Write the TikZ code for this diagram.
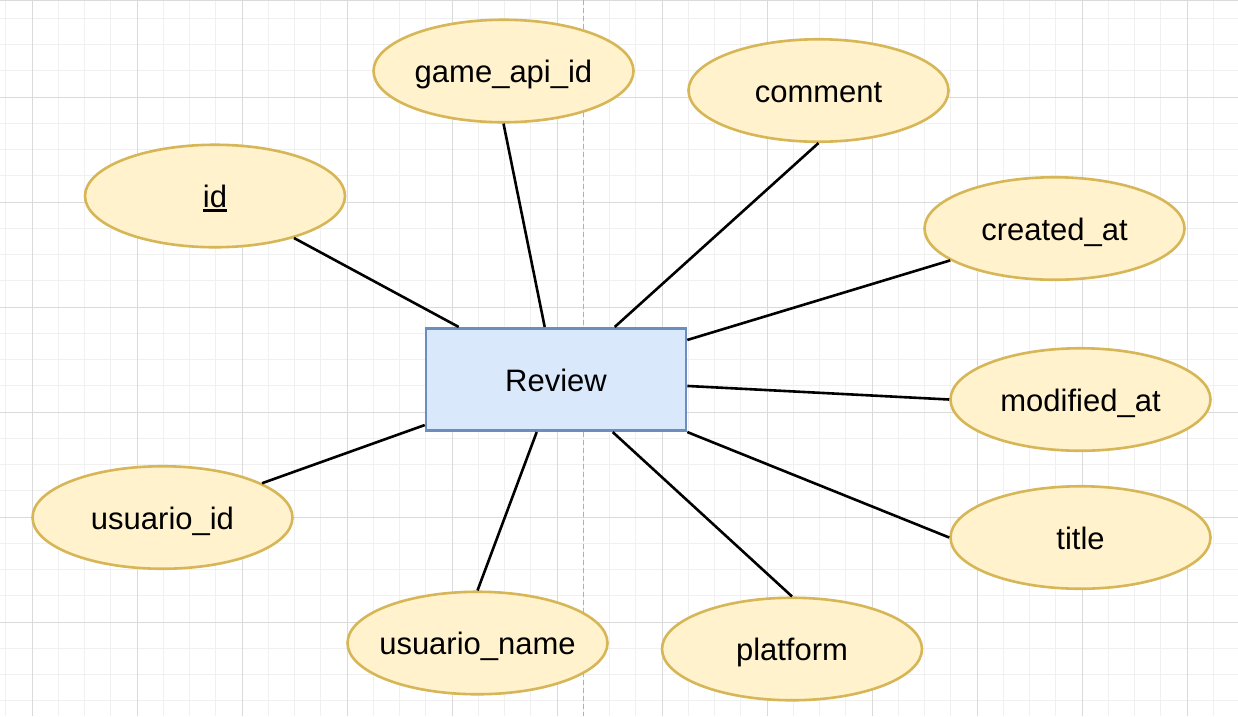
\documentclass[tikz,border=0pt]{standalone}
\usepackage{fontspec}
\setmainfont{Liberation Sans}
\usetikzlibrary{shapes.geometric,calc}
\definecolor{attrfill}{HTML}{FFF2CC}
\definecolor{attrdraw}{HTML}{D6B656}
\definecolor{entfill}{HTML}{DAE8FC}
\definecolor{entdraw}{HTML}{6C8EBF}
\definecolor{gridminor}{HTML}{F0F0F0}
\definecolor{gridmajor}{HTML}{DADADA}
\definecolor{pagebreak}{HTML}{B0B0B0}
\newcommand\myul[1]{\setbox0\hbox{#1}\rlap{\rule[-4pt]{\wd0}{2.5pt}}\box0}
\begin{document}
\begin{tikzpicture}[x=1pt,y=-1pt,
  shapebase/.style={line width=2.6pt, minimum width=260pt, minimum height=102.5pt,
    inner sep=0pt, font=\fontsize{31}{37}\selectfont, text height=23pt, text depth=0pt,
    execute at begin node={\hbox to 0pt\bgroup\hss},
    execute at end node={\hss\egroup}},
  attr/.style={shapebase, ellipse, draw=attrdraw, fill=attrfill},
  entity/.style={shapebase, rectangle, draw=entdraw, fill=entfill},
  link/.style={draw=black, line width=2.6pt},
  minorline/.style={draw=gridminor, line width=1pt},
  majorline/.style={draw=gridmajor, line width=1pt}]
\useasboundingbox[fill=white] (0,0) rectangle (1238,716);
% grid
\foreach \i in {0,...,47} {\draw[minorline] ({5.75+26.25*\i},0) -- ({5.75+26.25*\i},716);}
\foreach \i in {0,...,26} {\draw[minorline] (0,{18.25+26.25*\i}) -- (1238,{18.25+26.25*\i});}
\foreach \i in {0,...,11} {\draw[majorline] ({32+105*\i},0) -- ({32+105*\i},716);}
\foreach \i in {0,...,5} {\draw[majorline] (0,{97+105*\i}) -- (1238,{97+105*\i});}
\draw[majorline] (0,0.5) -- (1238,0.5);
\draw[draw=pagebreak, line width=1pt, dash pattern=on 5pt off 3pt] (583.25,0) -- (583.25,716);
% nodes
\node[entity] (rev) at (556,379.5) {Review};
\node[attr] (id) at (215,196) {\myul{id}};
\node[attr] (game) at (503.5,71) {game\_api\_id};
\node[attr] (comment) at (818.5,90.5) {comment};
\node[attr] (created) at (1054.5,228.5) {created\_at};
\node[attr] (modified) at (1080.5,399.5) {modified\_at};
\node[attr] (title) at (1080.5,537.5) {title};
\node[attr] (platform) at (792,649) {platform};
\node[attr] (uname) at (477.5,643) {usuario\_name};
\node[attr] (uid) at (162.5,517.5) {usuario\_id};
% connectors
\draw[link] (id.-28.3) -- ([xshift=34pt]rev.north west);
\draw[link] (game.south) -- ([xshift=120pt]rev.north west);
\draw[link] (comment.south) -- ([xshift=190pt]rev.north west);
\draw[link] (created.197.3) -- ([yshift=-13pt]rev.north east);
\draw[link] (modified.west) -- ([yshift=-59pt]rev.north east);
\draw[link] (title.west) -- (rev.south east);
\draw[link] (platform.north) -- ([xshift=188pt]rev.south west);
\draw[link] (uname.north) -- ([xshift=112pt]rev.south west);
\draw[link] (uid.19.5) -- ([yshift=7pt]rev.south west);
\end{tikzpicture}
\end{document}
